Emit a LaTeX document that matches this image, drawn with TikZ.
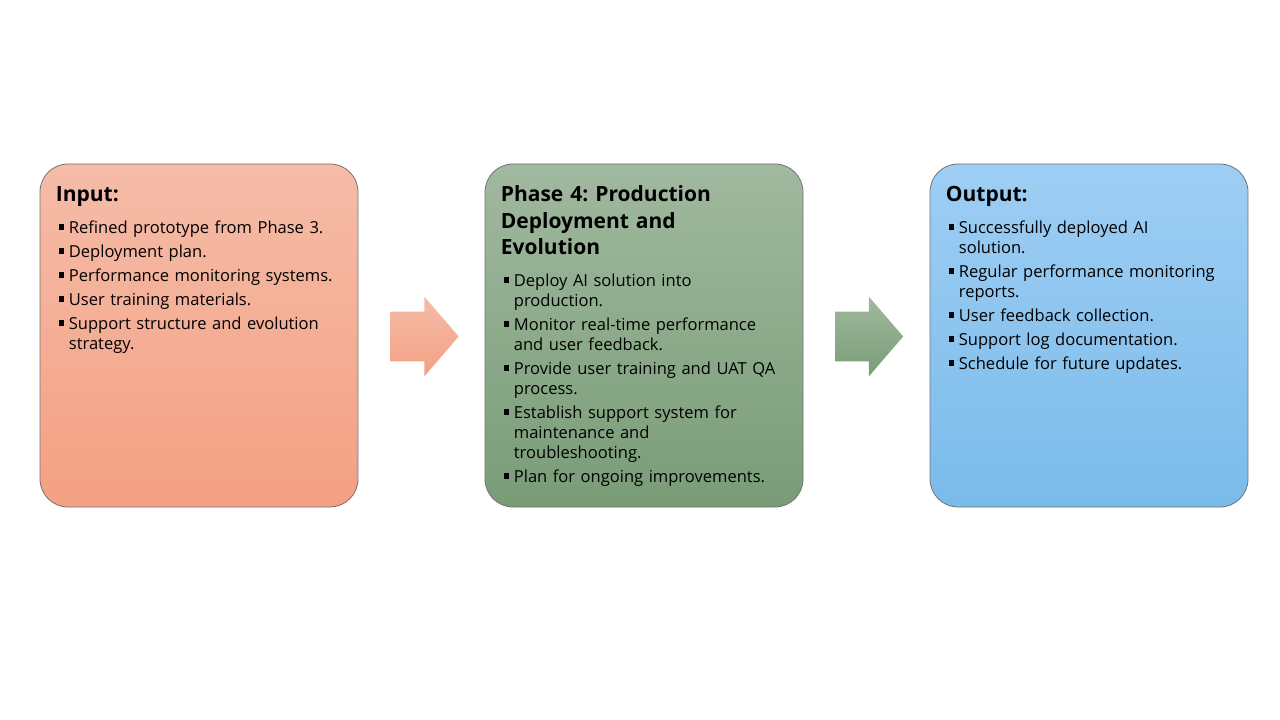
\documentclass[tikz,border=0pt]{standalone}
\usepackage{fontspec}
\setmainfont{Open Sans}
\frenchspacing
\usetikzlibrary{shapes.arrows,calc}

\definecolor{inTop}{RGB}{245,188,168}
\definecolor{inBot}{RGB}{244,160,131}
\definecolor{phTop}{RGB}{161,185,159}
\definecolor{phBot}{RGB}{121,156,119}
\definecolor{outTop}{RGB}{158,206,244}
\definecolor{outBot}{RGB}{122,187,234}

% square bullet item with hanging indent
\newcommand\bitem[1]{\hangindent=7.5pt\hangafter=1\noindent\makebox[7.5pt][l]{\rule[3pt]{4pt}{4pt}}#1\par\vskip3pt}

\tikzset{
  card/.style={draw=black!55, line width=0.6pt, rounded corners=21pt, minimum width=238.5pt, minimum height=257.25pt, inner sep=0pt},
  cardtitle/.style={anchor=base west, inner sep=0pt, text width=230pt, align=left, font=\bfseries\fontsize{15.75}{20}\selectfont},
  cardlist/.style={anchor=base west, inner sep=0pt, text width=240pt, align=left, font=\fontsize{12.4}{15}\selectfont},
  blockarrow/.style={single arrow, draw=none, minimum height=51pt, inner xsep=0pt, inner ysep=18.375pt, single arrow head extend=11.25pt, single arrow tip angle=98.6}
}

\begin{document}
\begin{tikzpicture}[x=0.75pt,y=0.75pt,yscale=-1,xscale=1]
\useasboundingbox (0,0) rectangle (1280,720);

% Boxes
\node [card, top color=inTop, bottom color=inBot] (inbox) at (199,335.5) {};
\node [card, top color=phTop, bottom color=phBot] (phbox) at (644,335.5) {};
\node [card, top color=outTop, bottom color=outBot] (outbox) at (1089,335.5) {};

% Block arrows
\node [blockarrow, top color=inTop, bottom color=inBot] (arrA) at ($(inbox.east)!0.5!(phbox.west)+(-7.5,1)$) {};
\node [blockarrow, top color=phTop, bottom color=phBot] (arrB) at ($(phbox.east)!0.5!(outbox.west)+(-8,1)$) {};

% Titles
\node [cardtitle] (inttl) at ($(inbox.north west)+(16,38)$) {Input:};
\node [cardtitle] (phttl) at ($(phbox.north west)+(16,38)$) {Phase 4: Production\\Deployment and\\Evolution};
\node [cardtitle] (outttl) at ($(outbox.north west)+(16,38)$) {Output:};

% Lists
\node [cardlist] (inlist) at ($(inbox.north west)+(19,70)$) {%
\bitem{Refined prototype from Phase 3.}
\bitem{Deployment plan.}
\bitem{Performance monitoring systems.}
\bitem{User training materials.}
\bitem{Support structure and evolution\newline strategy.}};
\node [cardlist] (phlist) at ($(phbox.north west)+(19,123)$) {%
\bitem{Deploy AI solution into\newline production.}
\bitem{Monitor real-time performance\newline and user feedback.}
\bitem{Provide user training and UAT QA\newline process.}
\bitem{Establish support system for\newline maintenance and\newline troubleshooting.}
\bitem{Plan for ongoing improvements.}};
\node [cardlist] (outlist) at ($(outbox.north west)+(19,70)$) {%
\bitem{Successfully deployed AI\newline solution.}
\bitem{Regular performance monitoring\newline reports.}
\bitem{User feedback collection.}
\bitem{Support log documentation.}
\bitem{Schedule for future updates.}};

\end{tikzpicture}
\end{document}
